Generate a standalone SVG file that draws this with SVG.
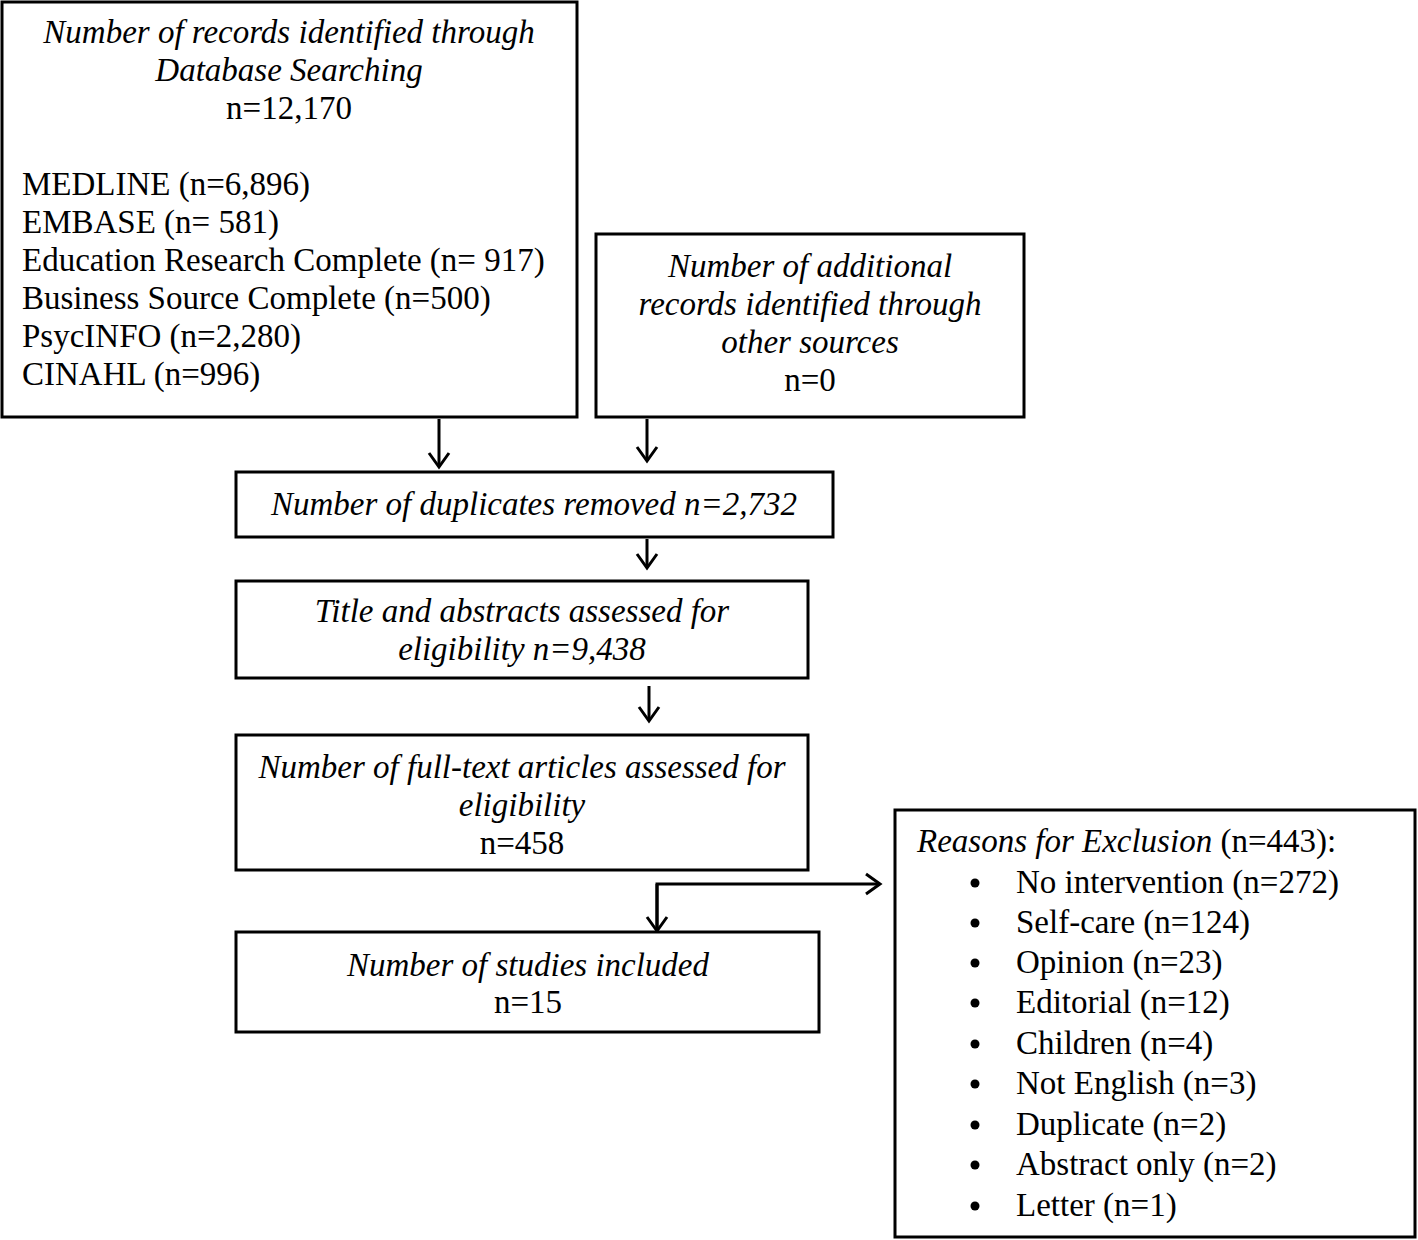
<svg xmlns="http://www.w3.org/2000/svg" width="1418" height="1240" viewBox="0 0 1418 1240">
<defs>
<style>
rect.box{fill:#fff;stroke:#000;stroke-width:3}
text{font-family:"Liberation Serif","Times New Roman",serif;font-size:33px;fill:#000}
.c{text-anchor:middle}
.i{font-style:italic}
.ln{fill:none;stroke:#000;stroke-width:3}
</style>
<marker id="ah" markerWidth="24" markerHeight="24" viewBox="0 0 24 24" refX="16" refY="12" orient="auto" markerUnits="userSpaceOnUse">
<path d="M2,2 L16,12 L2,22" fill="none" stroke="#000" stroke-width="3"/>
</marker>
</defs>
<rect width="1418" height="1240" fill="#fff"/>
<g id="connectors">
<line class="ln" x1="439" y1="419" x2="439" y2="467" marker-end="url(#ah)"/>
<line class="ln" x1="647" y1="419" x2="647" y2="461" marker-end="url(#ah)"/>
<line class="ln" x1="647" y1="539" x2="647" y2="568" marker-end="url(#ah)"/>
<line class="ln" x1="649" y1="686" x2="649" y2="721" marker-end="url(#ah)"/>
<polyline class="ln" points="657,931 657,884 880,884" marker-end="url(#ah)"/>
<line class="ln" x1="657" y1="884" x2="657" y2="931" marker-end="url(#ah)"/>
</g>
<g id="n1">
<rect class="box" x="2" y="2" width="575" height="415"/>
<text class="c i" x="289" y="43">Number of records identified through</text>
<text class="c i" x="289" y="81">Database Searching</text>
<text class="c" x="289" y="119">n=12,170</text>
<text x="22" y="195">MEDLINE (n=6,896)</text>
<text x="22" y="233">EMBASE (n= 581)</text>
<text x="22" y="271">Education Research Complete (n= 917)</text>
<text x="22" y="309">Business Source Complete (n=500)</text>
<text x="22" y="347">PsycINFO (n=2,280)</text>
<text x="22" y="385">CINAHL (n=996)</text>
</g>
<g id="n2">
<rect class="box" x="596" y="234" width="428" height="183"/>
<text class="c i" x="810" y="277">Number of additional</text>
<text class="c i" x="810" y="315">records identified through</text>
<text class="c i" x="810" y="353">other sources</text>
<text class="c" x="810" y="391">n=0</text>
</g>
<g id="n3">
<rect class="box" x="236" y="472" width="597" height="65"/>
<text class="c i" x="534" y="515">Number of duplicates removed n=2,732</text>
</g>
<g id="n4">
<rect class="box" x="236" y="581" width="572" height="97"/>
<text class="c i" x="522" y="622">Title and abstracts assessed for</text>
<text class="c i" x="522" y="660">eligibility n=9,438</text>
</g>
<g id="n5">
<rect class="box" x="236" y="735" width="572" height="135"/>
<text class="c i" x="522" y="778">Number of full-text articles assessed for</text>
<text class="c i" x="522" y="816">eligibility</text>
<text class="c" x="522" y="854">n=458</text>
</g>
<g id="n6">
<rect class="box" x="236" y="932" width="583" height="100"/>
<text class="c i" x="528" y="976">Number of studies included</text>
<text class="c" x="528" y="1013">n=15</text>
</g>
<g id="n7">
<rect class="box" x="895" y="810" width="520" height="427"/>
<text x="917" y="852"><tspan class="i">Reasons for Exclusion</tspan> (n=443):</text>
<g>
<circle cx="975" cy="883" r="4.5"/><text x="1016" y="893">No intervention (n=272)</text>
<circle cx="975" cy="923" r="4.5"/><text x="1016" y="933">Self-care (n=124)</text>
<circle cx="975" cy="963" r="4.5"/><text x="1016" y="973">Opinion (n=23)</text>
<circle cx="975" cy="1003" r="4.5"/><text x="1016" y="1013">Editorial (n=12)</text>
<circle cx="975" cy="1044" r="4.5"/><text x="1016" y="1054">Children (n=4)</text>
<circle cx="975" cy="1084" r="4.5"/><text x="1016" y="1094">Not English (n=3)</text>
<circle cx="975" cy="1125" r="4.5"/><text x="1016" y="1135">Duplicate (n=2)</text>
<circle cx="975" cy="1165" r="4.5"/><text x="1016" y="1175">Abstract only (n=2)</text>
<circle cx="975" cy="1206" r="4.5"/><text x="1016" y="1216">Letter (n=1)</text>
</g>
</g>
</svg>
